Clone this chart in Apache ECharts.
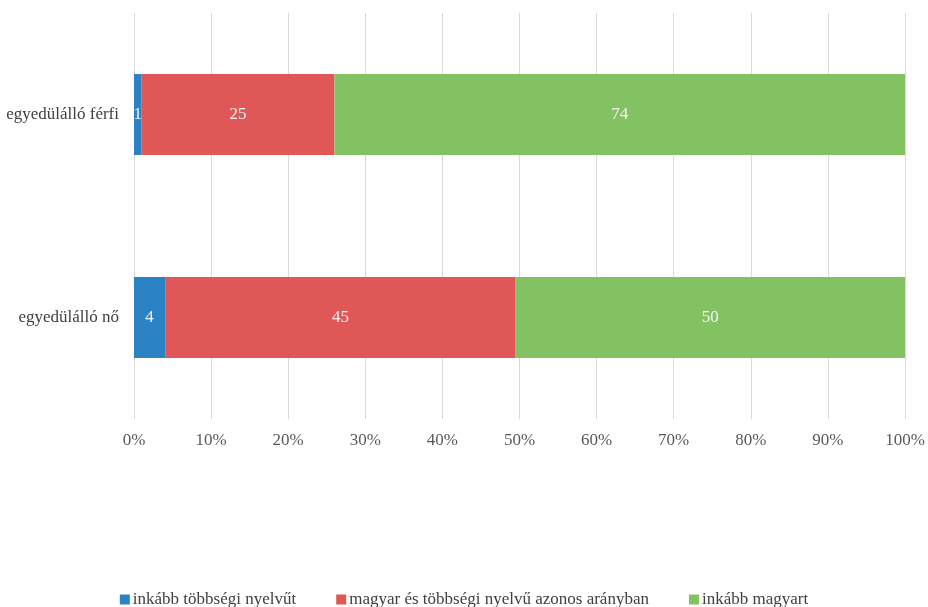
<!DOCTYPE html>
<html>
<head>
<meta charset="utf-8">
<script src="https://cdn.jsdelivr.net/npm/echarts@6/dist/echarts.min.js"></script>
<style>
  html, body { margin: 0; padding: 0; background: #fff; }
  #chart { width: 928px; height: 607px; }
</style>
</head>
<body>
<div id="chart"></div>
<script>
// Household types (top to bottom)
const categories = ['egyedülálló férfi', 'egyedülálló nő'];

// Answer shares per household type
const seriesNames = ['inkább többségi nyelvűt', 'magyar és többségi nyelvű azonos arányban', 'inkább magyart'];
const blueValues  = [1, 4];
const redValues   = [25, 45];
const greenValues = [74, 50];

const seriesColors = ['#2B82C5', '#E05757', '#83C262'];
const tickLabels = ['0%', '10%', '20%', '30%', '40%', '50%', '60%', '70%', '80%', '90%', '100%'];

const raw = [blueValues, redValues, greenValues];
const totals = categories.map((_, i) => raw.reduce((s, arr) => s + arr[i], 0));

const FONT = '"Liberation Serif", "DejaVu Serif", serif';

const chart = echarts.init(document.getElementById('chart'));
chart.setOption({
  animation: false,
  textStyle: { fontFamily: FONT },
  grid: { left: 134, right: 23, top: 13, bottom: 188, containLabel: false },
  xAxis: {
    type: 'value',
    min: 0, max: 100, interval: 10,
    axisLine: { show: false },
    axisTick: { show: false },
    splitLine: { lineStyle: { color: '#D9D9D9', width: 1 } },
    axisLabel: {
      color: '#595959', fontSize: 17, fontFamily: FONT, margin: 13,
      formatter: v => tickLabels[Math.round(v / 10)]
    }
  },
  yAxis: {
    type: 'category',
    inverse: true,
    data: categories,
    axisLine: { show: false },
    axisTick: { show: false },
    axisLabel: { color: '#404040', fontSize: 17, fontFamily: FONT, margin: 15 }
  },
  legend: {
    top: 591,
    left: 'center',
    padding: 0,
    itemWidth: 10, itemHeight: 10,
    itemGap: 40,
    icon: 'rect',
    textStyle: { color: '#404040', fontSize: 17, fontFamily: FONT, padding: [0, 0, 0, -2] },
    data: seriesNames
  },
  series: seriesNames.map((name, s) => ({
    name,
    type: 'bar',
    stack: 'total',
    barWidth: 81,
    itemStyle: { color: seriesColors[s] },
    label: {
      show: true,
      position: 'inside',
      color: '#F5F5F5',
      fontSize: 17,
      fontFamily: FONT,
      formatter: p => String(raw[s][p.dataIndex])
    },
    data: raw[s].map((v, i) => v / totals[i] * 100)
  }))
});
</script>
</body>
</html>
